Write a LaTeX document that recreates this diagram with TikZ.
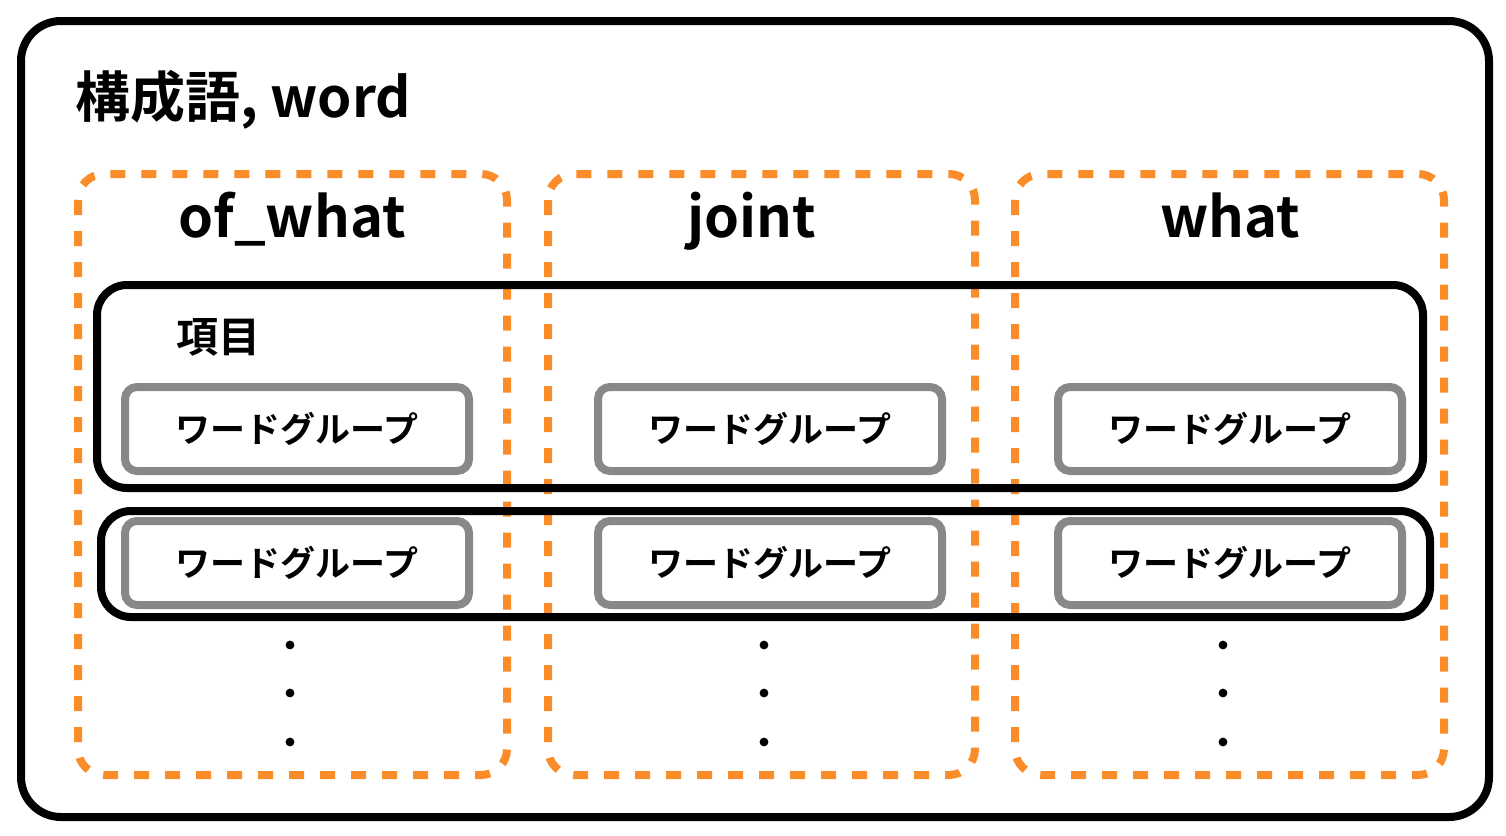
\documentclass[tikz,border=0pt]{standalone}
\usepackage{fontspec}
\setmainfont{Noto Sans CJK JP}[BoldFont = * Bold]
\definecolor{boxorange}{RGB}{250,140,42}
\definecolor{boxgray}{RGB}{136,136,136}

\begin{document}
\begin{tikzpicture}[x = 0.5pt, y = -0.5pt,
  column/.style = {draw = boxorange, line width = 4pt, dash pattern = on 7.5pt off 8pt, rounded corners = 13pt},
  rowbox/.style = {draw, line width = 4pt, rounded corners = 15pt},
  group/.style = {draw = boxgray, line width = 4pt, rounded corners = 6pt, fill = white,
                  minimum width = 172pt, minimum height = 42pt, inner sep = 0pt,
                  font = \fontsize{17.5}{17.5}\selectfont\bfseries},
  head/.style = {anchor = base, font = \fontsize{28}{28}\selectfont\bfseries}]

\useasboundingbox (0, 0) rectangle (1506, 836);

\draw[line width = 4pt, rounded corners = 20pt] (21, 21) rectangle (1489, 817);

\node[anchor = base west, inner sep = 0pt, font = \fontsize{27.5}{27.5}\selectfont\bfseries] (titleword) at (75, 117) {構成語, word};

\draw[column] (78, 174) rectangle (507, 775);
\draw[column] (548, 174) rectangle (975, 775);
\draw[column] (1015, 174) rectangle (1444, 775);

\node[head] (headofwhat) at (292, 237) {of\_what};
\node[head] (headjoint) at (752, 237) {joint};
\node[head] (headwhat) at (1230, 237) {what};

\draw[rowbox] (97, 285) rectangle (1423, 488);
\draw[rowbox] (101, 511) rectangle (1430, 617);

\node[anchor = base west, inner sep = 0pt, font = \fontsize{21}{21}\selectfont\bfseries] (itemlabel) at (176, 352) {項目};

\foreach \cx [count = \i] in {297, 770, 1230} {
  \node[group] (groupa\i) at (\cx, 429) {ワードグループ};
  \node[group] (groupb\i) at (\cx, 563) {ワードグループ};
}

\foreach \cx in {290, 764, 1223}
  \foreach \cy in {645, 693, 742}
    \fill (\cx, \cy) circle (2.2pt);

\end{tikzpicture}
\end{document}
